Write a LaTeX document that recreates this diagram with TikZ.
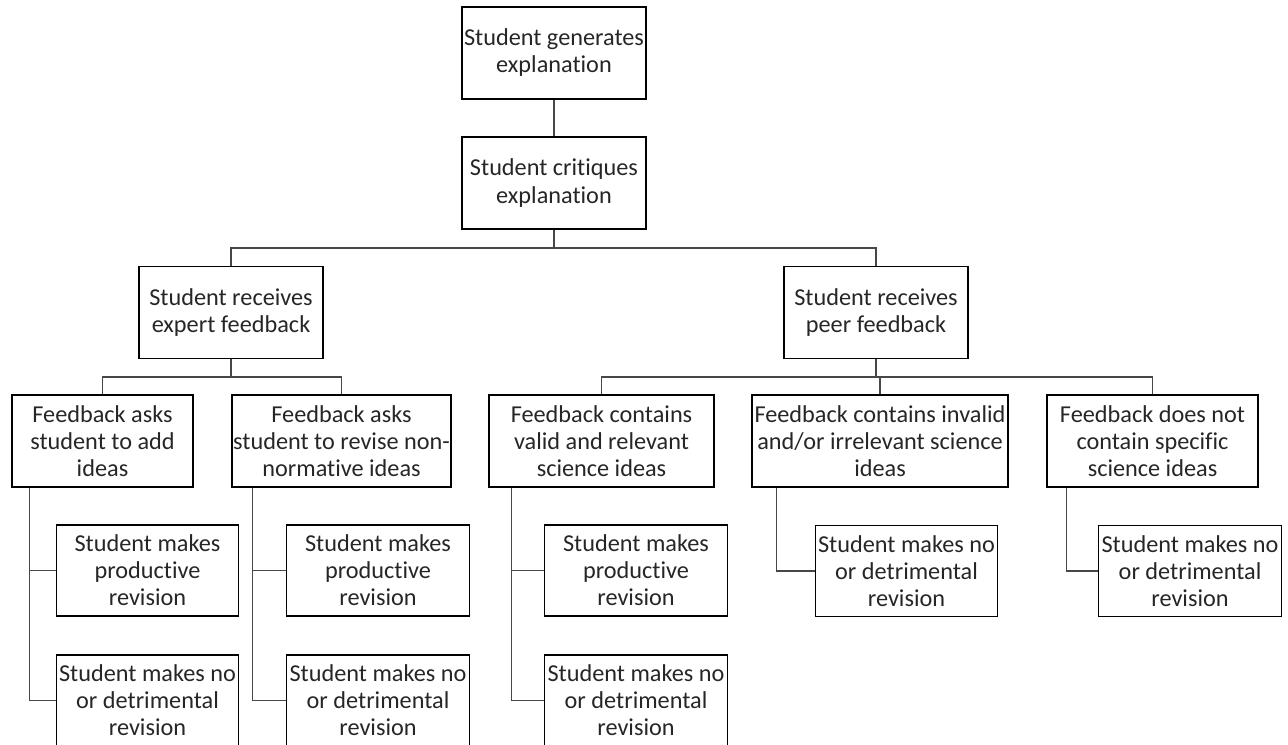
\documentclass[tikz,border=0pt]{standalone}
\usepackage{fontspec}
\setmainfont{Carlito}[Ligatures=NoCommon]
\usetikzlibrary{calc}
\begin{document}
\begin{tikzpicture}[x=0.75pt,y=-0.75pt,
  box/.style={draw=black, line width=0.95pt, inner sep=0pt, align=center,
    font=\fontsize{18.2}{20.3}\selectfont, text=black!85, minimum height=69pt},
  topbox/.style={box, minimum width=138pt},
  leafbox/.style={box, minimum width=137pt, minimum height=68.25pt},
  conn/.style={draw=black!72, line width=0.8pt}]
\useasboundingbox (0,0) rectangle (1288,745);

% level 0-2
\node[topbox] (gen)  at (554,53)    {Student generates\\explanation};
\node[topbox] (crit) at (554,183)   {Student critiques\\explanation};
\node[topbox] (exp)  at (231,312.5) {Student receives\\expert feedback};
\node[topbox] (peer) at (876,312.5) {Student receives\\peer feedback};

% level 3
\node[box, minimum width=135.75pt] (add)     at (102.5,441) {Feedback asks\\student to add\\ideas};
\node[box, minimum width=164.25pt] (rev)     at (341.5,441) {Feedback asks\\student to revise non-\\normative ideas};
\node[box, minimum width=168.75pt] (valid)   at (601.5,441) {Feedback contains\\valid and relevant\\science ideas};
\node[box, minimum width=192pt]    (invalid) at (880,441)   {Feedback contains invalid\\and/or irrelevant science\\ideas};
\node[box, minimum width=158.25pt] (notspec) at (1152.5,441){Feedback does not\\contain specific\\science ideas};

% level 4
\node[leafbox] (g1a) at (147.5,570.5) {Student makes\\productive\\revision};
\node[leafbox] (g1b) at (147.5,700.5) {Student makes no\\or detrimental\\revision};
\node[leafbox] (g2a) at (378,570.5)   {Student makes\\productive\\revision};
\node[leafbox] (g2b) at (378,700.5)   {Student makes no\\or detrimental\\revision};
\node[leafbox] (g3a) at (636,570.5)   {Student makes\\productive\\revision};
\node[leafbox] (g3b) at (636,700.5)   {Student makes no\\or detrimental\\revision};
\node[leafbox] (g4)  at (906.5,571)   {Student makes no\\or detrimental\\revision};
\node[leafbox] (g5)  at (1190,571)    {Student makes no\\or detrimental\\revision};

% junctions
\coordinate (j1) at (554,248);
\coordinate (j2) at (231,377);
\coordinate (j3) at (876,377);
\coordinate (s1) at ($(add.south west)+(18.5,0)$);
\coordinate (s2) at ($(rev.south west)+(21,0)$);
\coordinate (s3) at ($(valid.south west)+(23,0)$);
\coordinate (s4) at ($(invalid.south west)+(25.5,0)$);
\coordinate (s5) at ($(notspec.south west)+(20.5,0)$);

% connectors
\draw[conn] (gen) -- (crit);
\draw[conn] (crit) -- (j1);
\draw[conn] (exp.north) |- (j1) -| (peer.north);

\draw[conn] (exp) -- (j2);
\draw[conn] (add.north) |- (j2) -| (rev.north);

\draw[conn] (peer) -- (j3);
\draw[conn] (valid.north) |- (j3) -| (notspec.north);
\draw[conn] (j3 -| invalid.north) -- (invalid.north);

\draw[conn] (s1) |- (g1a.west);
\draw[conn] (s1) |- (g1b.west);
\draw[conn] (s2) |- (g2a.west);
\draw[conn] (s2) |- (g2b.west);
\draw[conn] (s3) |- (g3a.west);
\draw[conn] (s3) |- (g3b.west);
\draw[conn] (s4) |- (g4.west);
\draw[conn] (s5) |- (g5.west);
\end{tikzpicture}
\end{document}
